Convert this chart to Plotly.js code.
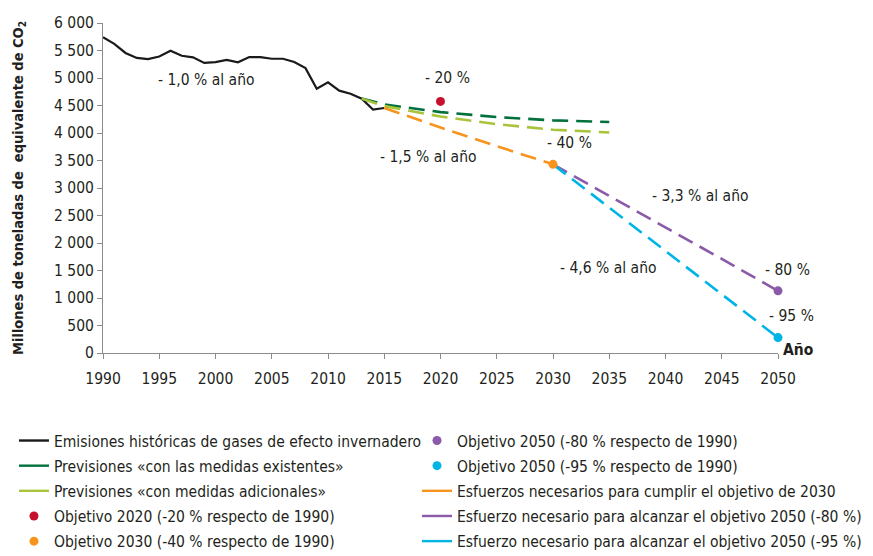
<!DOCTYPE html>
<html>
<head>
<meta charset="utf-8">
<script src="https://cdn.plot.ly/plotly-3.0.1.min.js"></script>
<style>html,body{margin:0;padding:0;background:#fff;}#chart{width:873px;height:556px;}</style>
</head>
<body>
<div id="chart"></div>
<script>
// ---- data ----
var histYears = [1990,1991,1992,1993,1994,1995,1996,1997,1998,1999,2000,2001,2002,2003,2004,2005,2006,2007,2008,2009,2010,2011,2012,2013,2014,2015];
var histValues = [5740,5620,5455,5365,5345,5390,5495,5405,5375,5275,5290,5330,5285,5380,5380,5350,5350,5290,5180,4805,4920,4770,4715,4625,4425,4455];

var projYears = [2013,2015,2020,2025,2030,2035];
var projExisting = [4625,4520,4380,4290,4230,4200];
var projAdditional = [4625,4490,4300,4160,4060,4010];

var effort2030Years = [2015,2020,2025,2030];
var effort2030Values = [4455,4100,3760,3430];

var effort80Years = [2030,2035,2040,2045,2050];
var effort80Values = [3430,2860,2290,1710,1130];

var effort95Years = [2030,2035,2040,2045,2050];
var effort95Values = [3430,2640,1850,1065,280];

var target2020Year = [2020], target2020Value = [4575];
var target2030Year = [2030], target2030Value = [3430];
var target2050aYear = [2050], target2050aValue = [1130];
var target2050bYear = [2050], target2050bValue = [280];

var yTickVals = [0,500,1000,1500,2000,2500,3000,3500,4000,4500,5000,5500,6000];
var yTickText = ["0","500","1 000","1 500","2 000","2 500","3 000","3 500","4 000","4 500","5 000","5 500","6 000"];
var xTickVals = [1990,1995,2000,2005,2010,2015,2020,2025,2030,2035,2040,2045,2050];

var names = [
  "Emisiones históricas de gases de efecto invernadero",
  "Previsiones «con las medidas existentes»",
  "Previsiones «con medidas adicionales»",
  "Objetivo 2020 (-20 % respecto de 1990)",
  "Objetivo 2030 (-40 % respecto de 1990)",
  "Objetivo 2050 (-80 % respecto de 1990)",
  "Objetivo 2050 (-95 % respecto de 1990)",
  "Esfuerzos necesarios para cumplir el objetivo de 2030",
  "Esfuerzo necesario para alcanzar el objetivo 2050 (-80 %)",
  "Esfuerzo necesario para alcanzar el objetivo 2050 (-95 %)"
];

// ---- styles ----
var FONT = "'DejaVu Sans Condensed', 'Liberation Sans Narrow', sans-serif";
var TXT = "#231f20";
var C = {
  black: "#1a1a1a", dgreen: "#00703c", lgreen: "#a8c43a", red: "#c8102e",
  orange: "#f7941d", purple: "#8b5aa8", cyan: "#00b4e4"
};
var DASH = "16px,8px";

function lineTrace(x, y, color, dash, width) {
  return {x: x, y: y, mode: "lines", showlegend: false, hoverinfo: "skip",
    line: {color: color, width: width, dash: dash}};
}
function legendLine(name, color, legend, rank) {
  return {x: [null], y: [null], mode: "lines", name: name, legend: legend, legendrank: rank,
    legendgroup: "l" + legend + rank, hoverinfo: "skip", line: {color: color, width: 2.4}};
}
function markerTrace(x, y, name, color, legend, rank) {
  return {x: x, y: y, mode: "markers", name: name, legend: legend, legendrank: rank,
    legendgroup: "m" + legend + rank, hoverinfo: "skip", cliponaxis: false,
    marker: {color: color, size: 9}};
}

var traces = [
  lineTrace(histYears, histValues, C.black, "solid", 2.2),
  lineTrace(projYears, projExisting, C.dgreen, DASH, 2.6),
  lineTrace(projYears, projAdditional, C.lgreen, DASH, 2.6),
  lineTrace(effort2030Years, effort2030Values, C.orange, DASH, 2.6),
  lineTrace(effort80Years, effort80Values, C.purple, DASH, 2.6),
  lineTrace(effort95Years, effort95Values, C.cyan, DASH, 2.6),
  legendLine(names[0], C.black, "legend", 1),
  legendLine(names[1], C.dgreen, "legend", 2),
  legendLine(names[2], C.lgreen, "legend", 3),
  markerTrace(target2020Year, target2020Value, names[3], C.red, "legend", 4),
  markerTrace(target2030Year, target2030Value, names[4], C.orange, "legend", 5),
  markerTrace(target2050aYear, target2050aValue, names[5], C.purple, "legend2", 1),
  markerTrace(target2050bYear, target2050bValue, names[6], C.cyan, "legend2", 2),
  legendLine(names[7], C.orange, "legend2", 3),
  legendLine(names[8], C.purple, "legend2", 4),
  legendLine(names[9], C.cyan, "legend2", 5)
];

function ann(text, x, y) {
  return {text: text, xref: "paper", yref: "paper", x: x, y: y, showarrow: false,
    xanchor: "center", yanchor: "middle", font: {family: FONT, size: 15.5, color: TXT}};
}

var legendCommon = {
  font: {family: FONT, size: 15.5, color: TXT},
  bgcolor: "rgba(0,0,0,0)", borderwidth: 0,
  orientation: "v", xanchor: "left", yanchor: "top",
  tracegroupgap: 2, traceorder: "grouped"
};

var layout = {
  width: 873, height: 556,
  margin: {l: 103, r: 95, t: 23, b: 203, autoexpand: false},
  paper_bgcolor: "#fff", plot_bgcolor: "#fff",
  font: {family: FONT, size: 16, color: TXT},
  showlegend: true,
  legend: Object.assign({}, legendCommon, {x: -0.1319, y: -0.215}),
  legend2: Object.assign({}, legendCommon, {x: 0.4652, y: -0.215}),
  xaxis: {
    range: [1990, 2050], tickvals: xTickVals, ticks: "outside", ticklen: 5,
    tickcolor: "#8c8c8c", showline: true, linecolor: "#8c8c8c", linewidth: 1,
    showgrid: false, zeroline: false, tickfont: {family: FONT, size: 15.5, color: TXT},
    ticklabelstandoff: 6
  },
  yaxis: {
    range: [0, 6000], tickvals: yTickVals, ticktext: yTickText, ticks: "outside", ticklen: 5,
    tickcolor: "#8c8c8c", showline: true, linecolor: "#8c8c8c", linewidth: 1,
    showgrid: false, zeroline: false, tickfont: {family: FONT, size: 15.5, color: TXT},
    title: {text: "Millones de toneladas de  equivalente de CO<sub>2</sub>", standoff: 26,
      font: {family: FONT, size: 14.5, color: TXT, weight: "bold"}}
  },
  annotations: [
    ann("- 1,0 % al año", 0.1526, 0.828),
    ann("- 20 %", 0.5111, 0.834),
    ann("- 1,5 % al año", 0.4815, 0.595),
    ann("- 40 %", 0.6904, 0.637),
    ann("- 3,3 % al año", 0.8859, 0.477),
    ann("- 4,6 % al año", 0.7496, 0.2585),
    ann("- 80 %", 1.0148, 0.2524),
    ann("- 95 %", 1.0193, 0.113),
    ann("<b>Año</b>", 1.0296, 0.01)
  ]
};

Plotly.newPlot("chart", traces, layout, {staticPlot: true, displayModeBar: false});
</script>
</body>
</html>
